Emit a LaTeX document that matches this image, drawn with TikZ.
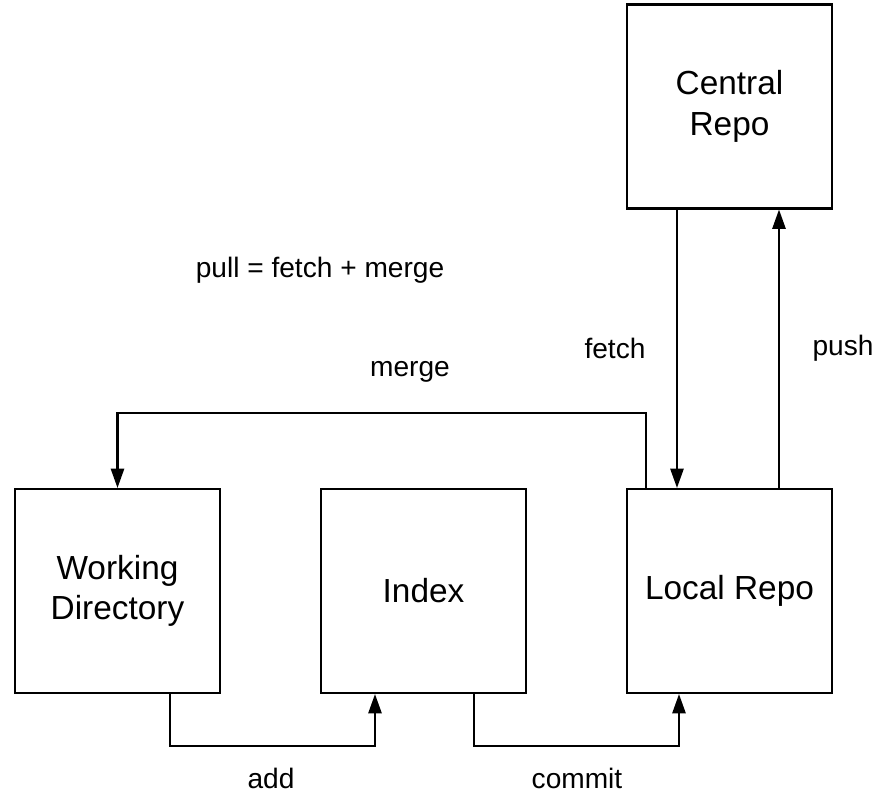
\documentclass[tikz,border=0pt]{standalone}
\usepackage{fontspec}
\setmainfont{Liberation Sans}
\usetikzlibrary{arrows.meta}
\begin{document}
\begin{tikzpicture}[x=0.02cm, y=-0.02cm]
        % Common styles
        \tikzstyle{repobox}=[draw, line width=1.2pt, minimum width=4.1cm, minimum height=4.08cm, inner sep=0pt, align=center, font=\fontsize{19}{23}\selectfont]
        \tikzstyle{flow}=[-{Triangle[length=11pt, width=7.5pt]}, line width=1.2pt]
        \tikzstyle{lbl}=[font=\fontsize{16}{19}\selectfont]
        \useasboundingbox (0,0) rectangle (880,795);

        % --- Boxes ---
        \node[repobox] (central) at (729.5,106.5) {Central\\Repo};
        \node[repobox] (wd) at (117.5,591) {Working\\Directory};
        \node[repobox] (index) at (423.5,591) {Index};
        \node[repobox] (local) at (729.5,591) {Local Repo};

        % --- Bend points ---
        \coordinate (fetchx) at (677,0);
        \coordinate (pushx) at (779,0);
        \coordinate (mergetop) at (646,413);
        \coordinate (addstart) at (170,746);
        \coordinate (addend) at (375,746);
        \coordinate (commitstart) at (474,746);
        \coordinate (commitend) at (679,746);

        % --- Connectors ---
        \draw[flow] (central.south -| fetchx) -- (local.north -| fetchx);
        \draw[flow] (local.north -| pushx) -- (central.south -| pushx);
        \draw[flow] (local.north -| mergetop) -- (mergetop) -| (wd.north);
        \draw[flow] (wd.south -| addstart) -- (addstart) -- (addend) -- (index.south -| addend);
        \draw[flow] (index.south -| commitstart) -- (commitstart) -- (commitend) -- (local.south -| commitend);

        % --- Labels ---
        \node[lbl] (pull) at (320,270) {pull = fetch + merge};
        \node[lbl] (fetch) at (615,348) {fetch};
        \node[lbl] (push) at (843,348) {push};
        \node[lbl] (merge) at (410,372) {merge};
        \node[lbl] (add) at (271,778) {add};
        \node[lbl] (commit) at (577,778) {commit};
\end{tikzpicture}
\end{document}
